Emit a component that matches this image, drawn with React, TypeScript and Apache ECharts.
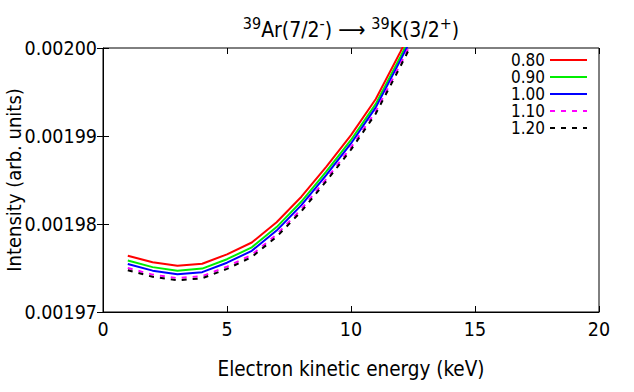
import React, { useEffect, useRef } from "react";
import * as echarts from "echarts";

const energies = [1, 2, 3, 4, 5, 6, 7, 8, 9, 10, 11, 12, 13];
const seriesNames = ["0.80", "0.90", "1.00", "1.10", "1.20"];
const red080 = [0.0019764, 0.00197565, 0.00197525, 0.00197548, 0.00197655, 0.0019779, 0.0019802, 0.0019831, 0.0019865, 0.0019901, 0.0019942, 0.0019996, 0.0020052];
const green090 = [0.00197585, 0.0019751, 0.0019747, 0.00197493, 0.001976, 0.00197735, 0.00197965, 0.00198255, 0.00198595, 0.00198955, 0.00199365, 0.00199905, 0.00200465];
const blue100 = [0.00197545, 0.0019747, 0.0019743, 0.00197453, 0.0019756, 0.00197695, 0.00197925, 0.00198215, 0.00198555, 0.00198915, 0.00199325, 0.00199865, 0.00200425];
const magenta110 = [0.001975, 0.00197425, 0.00197385, 0.00197408, 0.00197515, 0.0019765, 0.0019788, 0.0019817, 0.0019851, 0.0019887, 0.0019928, 0.0019982, 0.0020038];
const black120 = [0.00197475, 0.001974, 0.0019736, 0.00197383, 0.0019749, 0.00197625, 0.00197855, 0.00198145, 0.00198485, 0.00198845, 0.00199255, 0.00199795, 0.00200355];
const xTicks = [0, 5, 10, 15, 20];
const yTicks = [0.00197, 0.00198, 0.00199, 0.002];

const allValues = [red080, green090, blue100, magenta110, black120];
const colors = ["#ff0000", "#00ee00", "#0000ff", "#ff00ff", "#000000"];
const dashes: any[] = ["solid", "solid", "solid", [5, 6], [5, 6]];

const FONT = '"DejaVu Sans Condensed", "Noto Sans", sans-serif';

export default function App() {
  const ref = useRef<HTMLDivElement>(null);
  useEffect(() => {
    document.body.style.margin = "0";
    const chart = echarts.init(ref.current!, undefined, { renderer: "svg" });
    const series = allValues.map((vals, i) => ({
      name: seriesNames[i],
      type: "line",
      symbol: "none",
      clip: true,
      data: energies.map((e, j) => [e, vals[j]]),
      lineStyle: { color: colors[i], width: 2, type: dashes[i] },
      itemStyle: { color: colors[i] },
    }));
    chart.setOption({
      animation: false,
      backgroundColor: "#ffffff",
      textStyle: { fontFamily: FONT },
      title: {
        text: "{sup|39}{m|Ar(7/2}{sup|-}{m|) \u27F6 }{sup|39}{m|K(3/2}{sup|+}{m|)}",
        left: 351,
        top: 15,
        textAlign: "center",
        padding: 0,
        textStyle: {
          fontWeight: "normal",
          rich: {
            m: { fontSize: 21, lineHeight: 25, verticalAlign: "bottom", color: "#000", fontFamily: FONT, fontWeight: "normal" },
            sup: { fontSize: 16, lineHeight: 10, verticalAlign: "top", color: "#000", fontFamily: FONT, fontWeight: "normal" },
          },
        },
      },
      legend: {
        orient: "vertical",
        align: "right",
        right: 46,
        top: 51.5,
        padding: 0,
        itemGap: 0,
        itemWidth: 37,
        itemHeight: 17,
        selectedMode: false,
        data: seriesNames,
        itemStyle: { color: "rgba(0,0,0,0)", borderWidth: 0, opacity: 0 },
        textStyle: { fontSize: 17, lineHeight: 17, color: "#000", fontFamily: FONT },
      },
      grid: {
        left: 103,
        top: 48,
        width: 496,
        height: 264,
        show: true,
        borderColor: "#000",
        borderWidth: 1,
        backgroundColor: "transparent",
        containLabel: false,
        outerBoundsMode: "none",
      },
      xAxis: [
        {
          type: "value",
          min: xTicks[0],
          max: xTicks[xTicks.length - 1],
          interval: 5,
          name: "Electron kinetic energy (keV)",
          nameLocation: "middle",
          nameGap: 46,
          nameMoveOverlap: false,
          nameTextStyle: { fontSize: 20.5, color: "#000", fontFamily: FONT },
          axisLine: { show: true, lineStyle: { color: "#000", width: 1 } },
          axisTick: { show: true, inside: true, length: 6, lineStyle: { color: "#000" } },
          axisLabel: { fontSize: 19.5, color: "#000", margin: 7, fontFamily: FONT },
          splitLine: { show: false },
        },
        {
          type: "value",
          position: "top",
          min: xTicks[0],
          max: xTicks[xTicks.length - 1],
          interval: 5,
          axisLine: { show: false },
          axisTick: { show: true, inside: true, length: 6, lineStyle: { color: "#000" } },
          axisLabel: { show: false },
          splitLine: { show: false },
        },
      ],
      yAxis: [
        {
          type: "value",
          min: yTicks[0],
          max: yTicks[yTicks.length - 1],
          interval: 0.00001,
          name: "Intensity (arb. units)",
          nameLocation: "middle",
          nameGap: 79,
          nameMoveOverlap: false,
          nameTextStyle: { fontSize: 20, color: "#000", fontFamily: FONT },
          axisLine: { show: true, lineStyle: { color: "#000", width: 1 } },
          axisTick: { show: true, inside: true, length: 6, lineStyle: { color: "#000" } },
          axisLabel: {
            fontSize: 19.5,
            color: "#000",
            margin: 6,
            fontFamily: FONT,
            formatter: (v: number) => v.toFixed(5),
          },
          splitLine: { show: false },
        },
        {
          type: "value",
          position: "right",
          min: yTicks[0],
          max: yTicks[yTicks.length - 1],
          interval: 0.00001,
          axisLine: { show: false },
          axisTick: { show: true, inside: true, length: 6, lineStyle: { color: "#000" } },
          axisLabel: { show: false },
          splitLine: { show: false },
        },
      ],
      series,
    });
    return () => chart.dispose();
  }, []);
  return (
    <div
      ref={ref}
      style={{ position: "fixed", left: 0, top: 0, width: 634, height: 392 }}
    />
  );
}
